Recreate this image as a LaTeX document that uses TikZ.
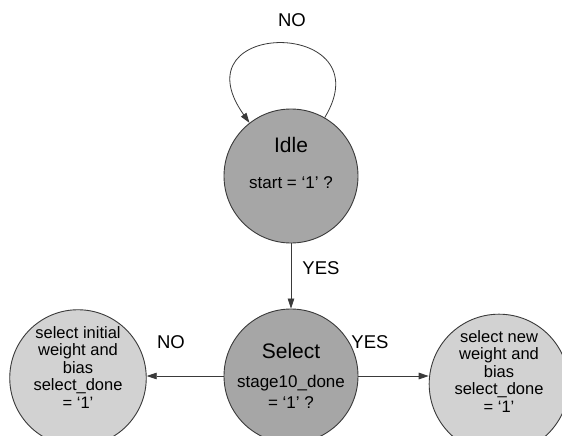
\documentclass[tikz,border=0pt]{standalone}
\usepackage{fontspec}
\setmainfont{Liberation Sans}
\usetikzlibrary{arrows.meta}
\definecolor{cStateDark}{HTML}{A6A6A6}
\definecolor{cStateLite}{HTML}{D2D2D2}
\definecolor{cEdge}{HTML}{3A3A3A}
\tikzset{
  stateBig/.style={circle, draw=cEdge, line width=0.9pt, fill=cStateDark,
                   minimum size=134pt, inner sep=0pt, align=center,
                   font=\fontsize{17}{19}\selectfont},
  stateSide/.style={circle, draw=cEdge, line width=0.9pt, fill=cStateLite,
                    inner sep=0pt, align=center,
                    font=\fontsize{16.5}{17.5}\selectfont},
  arr/.style={-{Triangle[length=10pt,width=6.5pt]}, line width=0.8pt, draw=cEdge},
  edgeLbl/.style={font=\fontsize{18.5}{20}\selectfont, inner sep=0pt},
}

\begin{document}
\begin{tikzpicture}[x=1pt, y=1pt]
\clip (0,0) rectangle (562,-436);
\fill[white] (0,0) rectangle (562,-436);

% ========== STATES ==========
\node[stateBig] (idle) at (291,-176)
  {{\fontsize{21}{23}\selectfont Idle}\\[17pt] start = ‘1’ ?\\[8pt]};
\node[stateBig] (select) at (291,-376)
  {{\fontsize{21}{23}\selectfont Select}\\[10pt] stage10\_done\\[2pt] = ‘1’ ?};
\node[stateSide, minimum size=134pt] (initw) at (78,-378)
  {select initial\\ weight and\\ bias\\ select\_done\\ = ‘1’\\[4pt]};
\node[stateSide, minimum size=126pt] (neww) at (499,-384)
  {select new\\ weight and\\ bias\\ select\_done\\ = ‘1’\\[8pt]};

% ========== TRANSITIONS ==========
\draw[arr] (idle.60) .. controls (385,-18) and (175,-18) .. (idle.128);
\draw[arr] (idle) -- (select);
\draw[arr] (select.west) -- (select.west -| initw.east);
\draw[arr] (select.east) -- (select.east -| neww.west);

\node[edgeLbl] (noLoop) at (292,-20) {NO};
\node[edgeLbl] (yesDown) at (321,-268) {YES};
\node[edgeLbl] (noLeft) at (171,-342) {NO};
\node[edgeLbl] (yesRight) at (370,-342) {YES};

\end{tikzpicture}
\end{document}
